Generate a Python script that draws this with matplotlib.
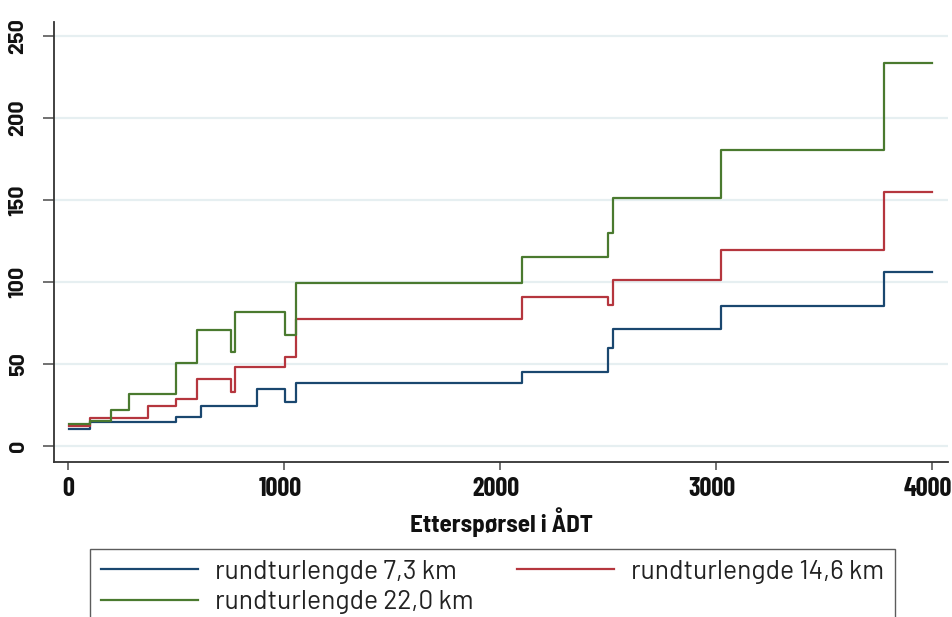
import matplotlib.pyplot as plt
import matplotlib.transforms as mtransforms
from matplotlib.lines import Line2D

# step breakpoints (ÅDT) and levels
x_73 = [5, 100, 500, 616, 877, 1005, 1054, 2100, 2500, 2522, 3023, 3779, 4000]
y_73 = [10.2, 14.5, 17.7, 24.6, 34.8, 27.0, 38.5, 45.0, 59.5, 71.2, 85.4, 106.0, 106.0]

x_146 = [5, 100, 372, 500, 597, 755, 773, 1005, 1054, 2100, 2500, 2522, 3023, 3779, 4000]
y_146 = [12.0, 17.0, 24.2, 28.6, 41.0, 33.0, 48.4, 54.5, 77.2, 90.9, 85.8, 101.0, 119.5, 155.0, 155.0]

x_220 = [5, 100, 198, 282, 500, 597, 755, 773, 1005, 1054, 2100, 2500, 2522, 3023, 3779, 4000]
y_220 = [13.4, 15.4, 21.8, 31.5, 50.6, 70.7, 57.1, 81.7, 67.7, 99.3, 115.4, 129.7, 151.3, 180.3, 233.5, 233.5]

labels = ["rundturlengde 7,3 km", "rundturlengde 14,6 km", "rundturlengde 22,0 km"]
colors = ["#1a476f", "#b5363e", "#4a7a2f"]

xticks = [0, 1000, 2000, 3000, 4000]
yticks = [0, 50, 100, 150, 200, 250]

xtick_font = ['Barlow Condensed', 'Barlow Semi Condensed', 'DejaVu Sans']
xlab_font = ['Barlow Semi Condensed', 'DejaVu Sans']
ytick_font = ['Barlow', 'DejaVu Sans']
leg_font = ['Barlow', 'DejaVu Sans']

fig = plt.figure(figsize=(9.53, 6.17), dpi=100)
ax = fig.add_axes([54/953, 1 - 462/617, (948 - 54)/953, (462 - 22)/617])

for xs, ys, c, lab in zip([x_73, x_146, x_220], [y_73, y_146, y_220], colors, labels):
    ax.step(xs, ys, where='post', color=c, lw=1.6, label=lab)

ax.set_xlim(-65, 4074)
ax.set_ylim(-9.8, 258.5)
ax.set_xticks(xticks)
ax.set_yticks(yticks)
ax.grid(axis='y', color='#e6eff1', lw=1.6)
ax.set_axisbelow(True)

for s in ['top', 'right']:
    ax.spines[s].set_visible(False)
for s in ['left', 'bottom']:
    ax.spines[s].set_color('#333333')
    ax.spines[s].set_linewidth(1.3)

ax.tick_params(axis='y', length=8, width=1.3, color='#666666', pad=11)
ax.tick_params(axis='x', length=6, width=1.3, color='#666666', pad=5)
shift = mtransforms.ScaledTranslation(-4/100, 0, fig.dpi_scale_trans)
for v, t in zip(xticks, ax.get_xticklabels()):
    t.set_fontfamily(xtick_font)
    t.set_fontweight('bold')
    t.set_fontsize(19)
    t.set_color('#111111')
    if v > 0:
        t.set_transform(t.get_transform() + shift)
for t in ax.get_yticklabels():
    t.set_fontfamily(ytick_font)
    t.set_fontweight('bold')
    t.set_fontsize(15.5)
    t.set_color('#111111')
    t.set_rotation(90)
    t.set_va('center')

ax.set_xlabel("Etterspørsel i ÅDT", fontsize=18, fontweight='bold', family=xlab_font,
              color='#111111', labelpad=4)

# legend: column 1 holds 7,3 and 22,0, column 2 holds 14,6
handles = [Line2D([], [], color=colors[i], lw=1.6) for i in (0, 2, 1)]
leg_labels = [labels[i] for i in (0, 2, 1)]
fs = 19
px = fs * 100 / 72
leg = fig.legend(handles, leg_labels, ncol=2, loc='upper left',
                 bbox_to_anchor=(90/953, 1 - 549/617), frameon=True, fancybox=False,
                 prop={'family': leg_font, 'size': fs},
                 handlelength=97/px, handletextpad=17/px, columnspacing=44/px,
                 labelspacing=0.25, borderpad=0.4, borderaxespad=0)
leg.get_frame().set_edgecolor('#333333')
leg.get_frame().set_linewidth(1.0)
for t in leg.get_texts():
    t.set_color('#222222')

plt.savefig("out.png", dpi=100)
